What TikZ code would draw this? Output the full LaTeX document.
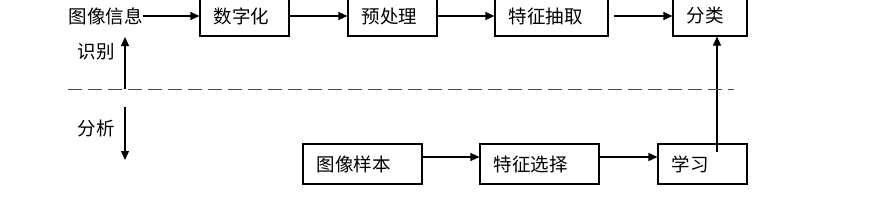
\documentclass[tikz,border=0pt]{standalone}
\usepackage{fontspec}
\newfontfamily\cjk{Noto Sans CJK SC}
\usetikzlibrary{arrows.meta}
\begin{document}
\begin{tikzpicture}[x=1pt,y=-1pt,
  lbl/.style={font=\cjk\fontsize{18.5}{20}\selectfont, inner sep=0pt},
  stepbox/.style={draw, line width=1.1pt, font=\cjk\fontsize{18.5}{20}\selectfont,
    inner xsep=13.5pt, inner ysep=0pt, minimum height=40pt, align=left},
  arr/.style={line width=1.1pt, -{Triangle[length=9pt,width=8pt]}},
  dl/.style={line width=1pt, draw=black!70, dash pattern=on 14pt off 6pt}]
\useasboundingbox (0,0) rectangle (872,206);
% top row
\node[lbl] (info) at (105.5,16) {图像信息};
\node[stepbox, text width=62pt] (d) at (244.5,16) {数字化};
\node[stepbox, text width=62pt] (p) at (392.5,16) {预处理};
\node[stepbox, text width=86pt] (t) at (551.5,16) {特征抽取};
\node[stepbox, text width=47pt] (f) at (710,16) {分类};
% bottom row
\node[stepbox, text width=92pt] (s) at (362.5,164) {图像样本};
\node[stepbox, text width=92pt] (xz) at (539.5,164) {特征选择};
\node[stepbox, text width=62pt] (xx) at (702.5,164) {学习};
% side labels
\node[lbl] (sb) at (96,52) {识别};
\node[lbl] (fx) at (96,128) {分析};
% coordinates
\coordinate (dL) at (68,89);
\coordinate (dR) at (734,89);
\coordinate (r0) at (125,89);
\coordinate (r1) at (125,37);
\coordinate (a0) at (125,107);
\coordinate (a1) at (125,160);
\coordinate (ls) at (717,152);
% connectors
\draw[arr] (info.east) -- (d.west);
\draw[arr] (d.east) -- (p.west);
\draw[arr] (p.east) -- (t.west);
\draw[arr, shorten <=5pt] (t.east) -- (f.west);
\draw[arr] ([yshift=7pt]s.east) -- ([yshift=7pt]xz.west);
\draw[arr] ([yshift=7pt]xz.east) -- ([yshift=7pt]xx.west);
\draw[arr] (ls) -- (ls |- f.south);
\draw[dl] (dL) -- (dR);
\draw[arr] (r0) -- (r1);
\draw[arr] (a0) -- (a1);
\end{tikzpicture}
\end{document}
